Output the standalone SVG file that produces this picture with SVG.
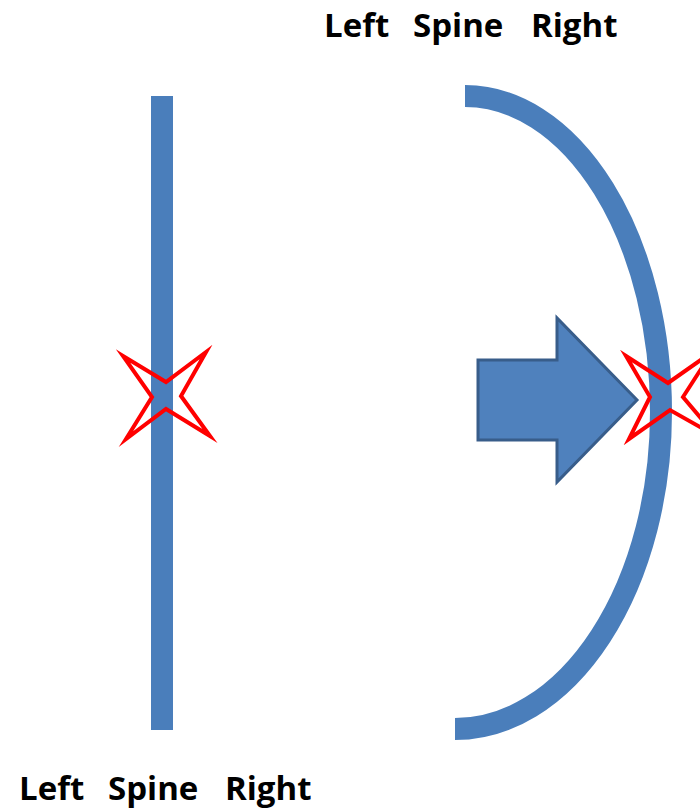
<svg xmlns="http://www.w3.org/2000/svg" width="700" height="811" viewBox="0 0 700 811">
  <style>
    .lbl { font-family: "Open Sans", "Liberation Sans", sans-serif; font-weight: bold; font-size: 33px; fill: #000; }
    .spine { fill: none; stroke: #4A7EBB; stroke-width: 22; stroke-linecap: butt; }
    .star { fill: none; stroke: #FF0000; stroke-width: 4; stroke-linejoin: miter; stroke-miterlimit: 10; }
    .arrow { fill: #4F81BD; stroke: #385D8A; stroke-width: 3; stroke-linejoin: miter; }
  </style>
  <rect width="700" height="811" fill="#FFFFFF"/>
  <g id="top-label">
    <text class="lbl" y="37"><tspan x="324">Left</tspan><tspan x="413">Spine</tspan><tspan x="531">Right</tspan></text>
  </g>
  <g id="bottom-label">
    <text class="lbl" y="800"><tspan x="19">Left</tspan><tspan x="108">Spine</tspan><tspan x="225">Right</tspan></text>
  </g>
  <g id="straight-spine">
    <rect x="151" y="96" width="22" height="634" fill="#4A7EBB"/>
  </g>
  <g id="left-star">
    <polygon class="star" points="123,356 166,382 206,352 181,396 210,436 166,409 126,439 152,397"/>
  </g>
  <g id="curved-spine">
    <path class="spine" d="M 465,96 A 196,316 0 0 1 661,412 A 206,317 0 0 1 455,729"/>
  </g>
  <g id="arrow">
    <polygon class="arrow" points="478,360 557,360 557,318 637,400 557,482 557,440 478,440"/>
  </g>
  <g id="right-star">
    <polygon class="star" points="626,356 668,383 712,352 683,397 716,436 670,410 629,439 650,397"/>
  </g>
</svg>
